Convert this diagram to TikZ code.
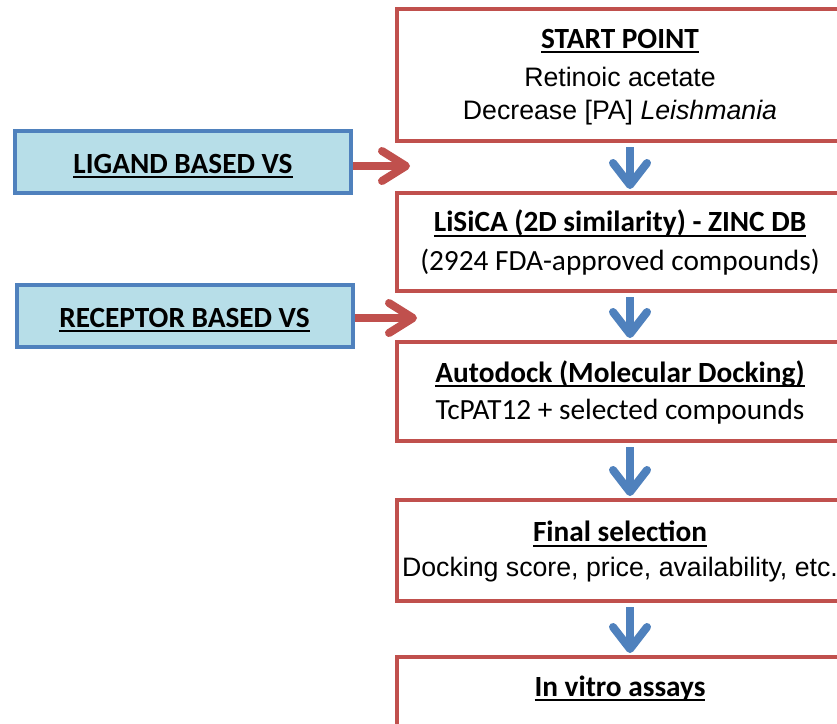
\documentclass[tikz,border=0pt]{standalone}
\usepackage{fontspec}
\setmainfont{Liberation Sans}
\newfontfamily\calibri{Carlito}
\usetikzlibrary{arrows.meta}

\definecolor{boxred}{HTML}{C0504D}
\definecolor{boxblue}{HTML}{4F81BD}
\definecolor{vsfill}{HTML}{B7DEE8}

% underlined bold heading
\newsavebox\hdbox
\newcommand\hd[1]{\sbox\hdbox{\calibri\bfseries\fontsize{29.3}{33}\selectfont #1}%
  \rule{0pt}{23pt}\rlap{\raisebox{-5pt}[0pt][0pt]{\rule{\wd\hdbox}{2pt}}}\usebox\hdbox}
\newcommand\arialtxt{\fontsize{26.7}{33}\selectfont}
\newcommand\calibritxt{\calibri\fontsize{29.3}{33}\selectfont}

\tikzset{
  stepbox/.style={draw=boxred, line width=4pt, minimum width=446pt, inner sep=0pt, align=center, font=\arialtxt},
  vsbox/.style={draw=boxblue, fill=vsfill, line width=4pt, minimum width=336pt, minimum height=62pt, inner sep=0pt},
  downarrow/.style={draw=boxblue, line width=8pt, shorten <=4pt, shorten >=2pt, -{Straight Barb[length=22pt,width=34pt,round]}},
  vsarrow/.style={draw=boxred, line width=8pt, -{Straight Barb[length=24pt,width=30pt,round]}},
}

\begin{document}
\begin{tikzpicture}[x=1pt, y=-1pt]
\useasboundingbox (0,0) rectangle (837,723);
\clip (0,0) rectangle (837,723);
\fill[white] (0,0) rectangle (837,723);

% pipeline
\node[stepbox, minimum height=132pt] (start) at (620,75)
  {\hd{START POINT}\\[5pt] Retinoic acetate\\ Decrease [PA] \textit{Leishmania}};
\node[stepbox, minimum height=98pt, font=\calibritxt] (lisica) at (620,242)
  {\hd{LiSiCA (2D similarity) - ZINC DB}\\[6pt] (2924 FDA-approved compounds)};
\node[stepbox, minimum height=99pt, font=\calibritxt] (autodock) at (620,391.5)
  {\hd{Autodock (Molecular Docking)}\\[4pt] TcPAT12 + selected compounds};
\node[stepbox, minimum height=101pt] (final) at (620,550.5)
  {\hd{Final selection}\\[2pt] Docking score, price, availability, etc.};
\node[stepbox, anchor=base, text height=39pt, text depth=60pt] (assays) at (620,696)
  {\hd{In vitro assays}};

\foreach \a/\b in {start/lisica, lisica/autodock, autodock/final, final/assays}
  \draw[downarrow] ([xshift=10pt]\a.south) -- ([xshift=10pt]\b.north);

% screening inputs
\node[vsbox] (ligand) at (183,162) {\hd{LIGAND BASED VS}};
\node[vsbox] (receptor) at (184.5,316) {\hd{RECEPTOR BASED VS}};

\coordinate (ligand tip) at (410,166);
\coordinate (receptor tip) at (417,318);
\draw[vsarrow] (ligand.east |- ligand tip) -- (ligand tip);
\draw[vsarrow] (receptor.east |- receptor tip) -- (receptor tip);
\end{tikzpicture}
\end{document}
